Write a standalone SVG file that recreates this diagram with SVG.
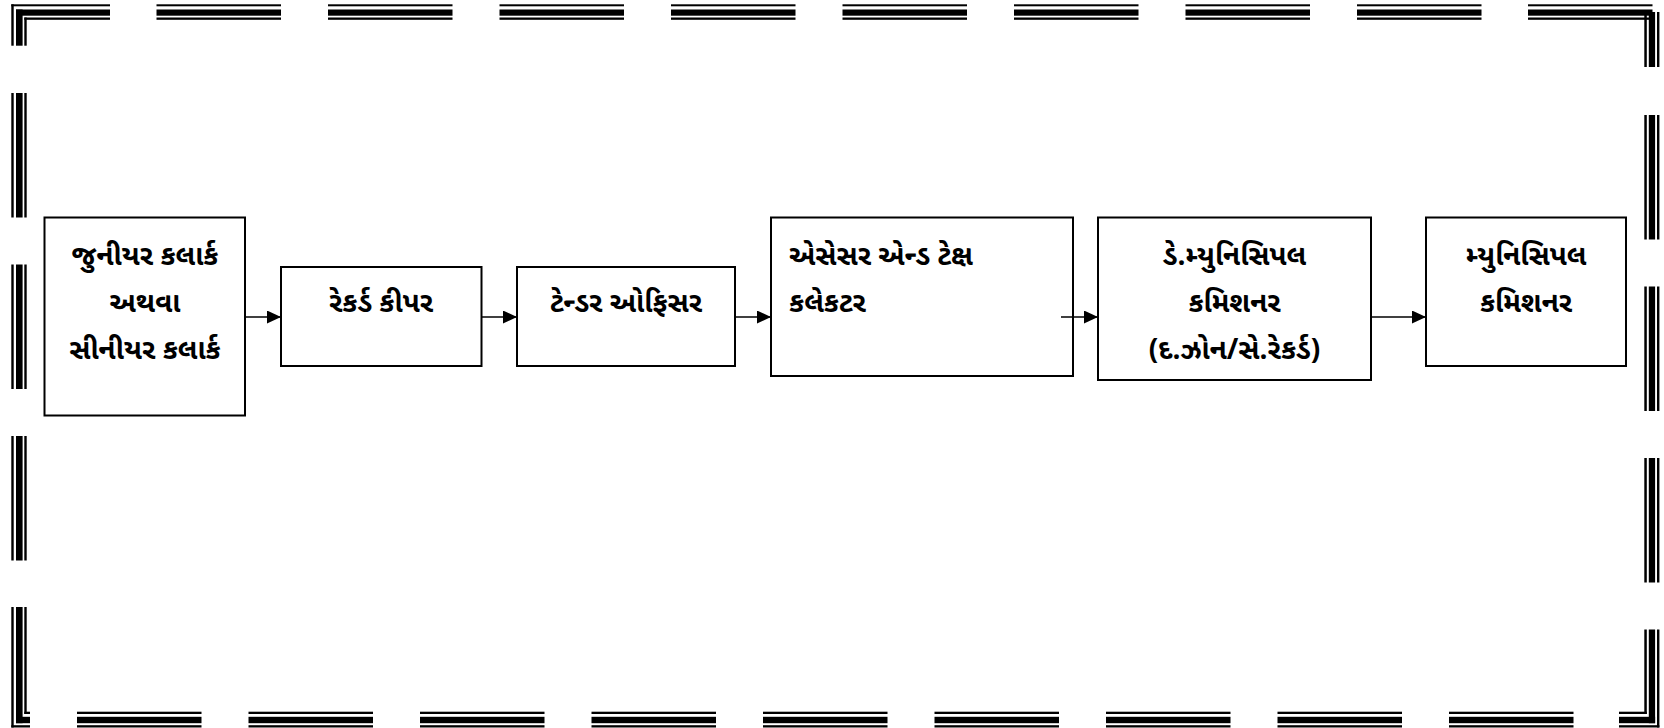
<svg xmlns="http://www.w3.org/2000/svg" xmlns:xlink="http://www.w3.org/1999/xlink" width="1664" height="728" viewBox="0 0 1664 728">
<style>
.b{fill:#000}
.box{fill:#fff;stroke:#000;stroke-width:2}
.t{font-family:"Noto Sans Gujarati","Lohit Gujarati","Noto Sans",sans-serif;font-size:28px;font-weight:bold;fill:#000}
.c{text-anchor:middle}
.con{stroke:#000;stroke-width:1.6;fill:none;marker-end:url(#ah)}
</style>
<defs>
<marker id="ah" markerUnits="userSpaceOnUse" markerWidth="14" markerHeight="13" refX="14" refY="6.5" orient="auto">
<path d="M0,0 L14,6.5 L0,13 z" fill="#000"/>
</marker>
<g id="hTop" class="b"><rect x="0" y="4.3" width="124.5" height="2"/><rect x="0" y="9.5" width="124.5" height="6.2"/><rect x="0" y="17.5" width="124.5" height="2.3"/></g>
<g id="hBot" class="b"><rect x="0" y="711.7" width="124.5" height="2.3"/><rect x="0" y="716.8" width="124.5" height="6.4"/><rect x="0" y="725.2" width="124.5" height="2.3"/></g>
<g id="vLeft" class="b"><rect x="11.3" y="0" width="2.4" height="124.5"/><rect x="16" y="0" width="6.6" height="124.5"/><rect x="24.3" y="0" width="2.4" height="124.5"/></g>
<g id="vRight" class="b"><rect x="1644.3" y="0" width="2.5" height="124.5"/><rect x="1648.8" y="0" width="6.3" height="124.5"/><rect x="1657" y="0" width="2.4" height="124.5"/></g>
</defs>
<rect width="1664" height="728" fill="#fff"/>
<g id="page-border" class="b">
<rect x="11.3" y="4.3" width="98.7" height="2"/><rect x="11.3" y="4.3" width="2.4" height="41.4"/>
<rect x="16" y="9.5" width="94" height="6.2"/><rect x="16" y="9.5" width="6.6" height="36.2"/>
<rect x="24.3" y="17.5" width="85.7" height="2.3"/><rect x="24.3" y="17.5" width="2.4" height="28.2"/>
<use xlink:href="#hTop" x="156.5"/><use xlink:href="#hTop" x="328"/><use xlink:href="#hTop" x="499.5"/><use xlink:href="#hTop" x="671"/><use xlink:href="#hTop" x="842.5"/><use xlink:href="#hTop" x="1014"/><use xlink:href="#hTop" x="1185.5"/><use xlink:href="#hTop" x="1357"/><use xlink:href="#hTop" x="1528"/>
<rect x="1644.3" y="12" width="2.5" height="55"/><rect x="1648.8" y="12" width="6.3" height="55"/><rect x="1657" y="12" width="2.4" height="55"/>
<use xlink:href="#vRight" y="115"/><use xlink:href="#vRight" y="286.5"/><use xlink:href="#vRight" y="458"/>
<use xlink:href="#vLeft" y="93"/><use xlink:href="#vLeft" y="264.5"/><use xlink:href="#vLeft" y="436"/>
<rect x="11.3" y="607" width="2.4" height="120.5"/><rect x="11.3" y="725.2" width="18.7" height="2.3"/>
<rect x="16" y="607" width="6.6" height="116.2"/><rect x="16" y="716.8" width="14" height="6.4"/>
<rect x="24.3" y="607" width="2.4" height="107"/><rect x="24.3" y="711.7" width="5.7" height="2.3"/>
<use xlink:href="#hBot" x="77"/><use xlink:href="#hBot" x="248.5"/><use xlink:href="#hBot" x="420"/><use xlink:href="#hBot" x="591.5"/><use xlink:href="#hBot" x="763"/><use xlink:href="#hBot" x="934.5"/><use xlink:href="#hBot" x="1106"/><use xlink:href="#hBot" x="1277.5"/><use xlink:href="#hBot" x="1449"/>
<rect x="1619" y="711.7" width="27.8" height="2.3"/><rect x="1644.3" y="629.5" width="2.5" height="84.5"/>
<rect x="1619" y="716.8" width="36.1" height="6.4"/><rect x="1648.8" y="629.5" width="6.3" height="93.7"/>
<rect x="1619" y="725.2" width="40.4" height="2.3"/><rect x="1657" y="629.5" width="2.4" height="98"/>
</g>
<g id="node-clerk">
<rect class="box" x="44.5" y="217.5" width="200.5" height="198"/>
<text class="t c" x="145" y="265">જુનીયર કલાર્ક</text>
<text class="t c" x="145" y="312">અથવા</text>
<text class="t c" x="145" y="359">સીનીયર કલાર્ક</text>
</g>
<g id="node-record-keeper">
<rect class="box" x="281" y="267" width="200.5" height="99"/>
<text class="t c" x="381" y="312">રેકર્ડ કીપર</text>
</g>
<g id="node-tender-officer">
<rect class="box" x="517" y="267" width="218" height="99"/>
<text class="t c" x="626" y="312">ટેન્ડર ઓફિસર</text>
</g>
<g id="node-assessor">
<rect class="box" x="771" y="217.5" width="302" height="158.5"/>
<text class="t" x="789" y="265">એસેસર એન્ડ ટેક્ષ</text>
<text class="t" x="789" y="312">કલેકટર</text>
</g>
<g id="node-dy-commissioner">
<rect class="box" x="1098" y="217.5" width="273" height="162.5"/>
<text class="t c" x="1234.5" y="265">ડે.મ્યુનિસિપલ</text>
<text class="t c" x="1234.5" y="312">કમિશનર</text>
<text class="t c" x="1234.5" y="359">(દ.ઝોન/સે.રેકર્ડ)</text>
</g>
<g id="node-commissioner">
<rect class="box" x="1426" y="217.5" width="200" height="148.5"/>
<text class="t c" x="1526" y="265">મ્યુનિસિપલ</text>
<text class="t c" x="1526" y="312">કમિશનર</text>
</g>
<g id="connectors">
<line class="con" x1="245" y1="317" x2="281" y2="317"/>
<line class="con" x1="481.5" y1="317" x2="517" y2="317"/>
<line class="con" x1="735" y1="317" x2="771" y2="317"/>
<line class="con" x1="1061" y1="317" x2="1098" y2="317"/>
<line class="con" x1="1371" y1="317" x2="1426" y2="317"/>
</g>
</svg>
